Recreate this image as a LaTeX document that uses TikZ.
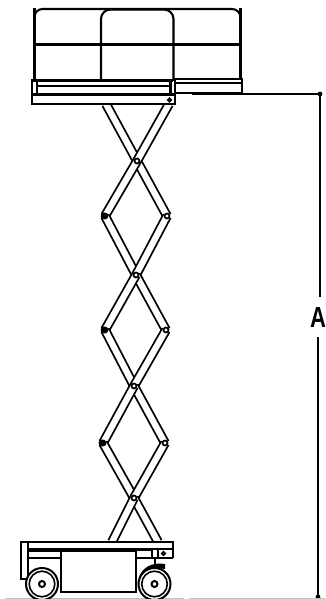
\documentclass[tikz,border=0pt]{standalone}
\usepackage{fontspec}
\setmainfont{Liberation Sans}
\begin{document}
\begin{tikzpicture}[x=1pt,y=-1pt,
  frame/.style={draw=black,line width=2pt,fill=white},
  ln/.style={draw=black,line width=2.1pt},
  thin line/.style={draw=black,line width=1.1pt},
  beam/.style={draw=black,line width=1.8pt,double=white,double distance=6.2pt},
  pin/.style={draw=black,line width=1.7pt,fill=white,circle,inner sep=0pt,minimum size=5pt},
]
\useasboundingbox (0,0) rectangle (325,599);
\fill[white] (0,0) rectangle (325,599);
% scissor points
\coordinate (t1) at (106,104); \coordinate (t2) at (169,104);
\coordinate (c1) at (137,161); \coordinate (l1) at (105,216); \coordinate (r1) at (167,216);
\coordinate (c2) at (136,275); \coordinate (l2) at (105,330); \coordinate (r2) at (166,330);
\coordinate (c3) at (134,386); \coordinate (l3) at (103,443); \coordinate (r3) at (165,443);
\coordinate (c4) at (134,498); \coordinate (b1) at (112,542); \coordinate (b2) at (158,542);
% beams
\draw[beam] (t1) -- (c1) -- (r1);
\draw[beam] (t2) -- (c1);
\draw[beam] (c1) -- (l1);
\draw[beam] (l1) -- (c2);
\draw[beam] (r1) -- (c2);
\draw[beam] (c2) -- (r2);
\draw[beam] (c2) -- (l2);
\draw[beam] (l2) -- (c3);
\draw[beam] (r2) -- (c3);
\draw[beam] (c3) -- (r3);
\draw[beam] (c3) -- (l3);
\draw[beam] (l3) -- (c4);
\draw[beam] (r3) -- (c4);
\draw[beam] (c4) -- (b2);
\draw[beam] (c4) -- (b1);
\foreach \p in {c1,c2,c3,c4,l1,r1,l2,r2,l3,r3} \node[pin] at (\p) {};
\foreach \p in {l1,l2,l3} \fill ([xshift=-1pt]\p) circle (3.4pt);
\foreach \p in {r1,r2,r3} \fill[white] (\p) circle (0.9pt);
% guard rails
\draw[ln] (34.5,80) -- (34.5,8);
\draw[ln] (240.5,80) -- (240.5,8);
\draw[ln] (34.5,17) arc[start angle=180,end angle=270,radius=8] -- (232,9) arc[start angle=270,end angle=360,radius=8.5];
\draw[ln] (34.5,44.5) -- (240,44.5);
\draw[ln] (101,80) -- (101,19) arc[start angle=180,end angle=270,radius=9.5] -- (164,9.5) arc[start angle=270,end angle=360,radius=9.5] -- (173.5,80);
% platform
\draw[frame] (175,79) rectangle (242,93);
\draw[ln,line width=1.5pt] (175,83) -- (242,83);
\draw[frame] (32,80.5) rectangle (175,104);
\draw[ln,line width=1.8pt] (32,81.5) -- (173,81.5);
\draw[ln,line width=2.8pt] (100,80) -- (172,80);
\draw[ln] (37,86) -- (171,86);
\draw[ln] (32,94.5) -- (175,94.5);
\draw[ln] (37,81) -- (37,94.5);
\draw[ln,line width=2.6pt] (170.5,81) -- (170.5,94.5);
\node[pin,minimum size=3.5pt] at (169.5,100) {};
% dimension
\draw[thin line] (192,94) -- (320,94);
\draw[ln] (192,94) -- (241,94);
\fill (320,94) circle (2.4pt);
\draw[thin line,line width=1.3pt] (320,94) -- (320,297);
\draw[thin line,line width=1.3pt] (318,337) -- (318,597);
\fill (318,597) circle (2.4pt);
\node[font=\bfseries\fontsize{29}{29}\selectfont,inner sep=0pt,xscale=.76] (dimA) at (318,317.5) {A};
% base
\draw[black!25,line width=0.8pt] (6,598.2) -- (184,598.2) (190,598.2) -- (325,598.2);
\draw[frame] (21,542) rectangle (28,579);
\draw[frame] (28,542) rectangle (173,549);
\draw[ln,line width=2.6pt] (28,550.5) -- (135,550.5);
\draw[ln] (28,558) -- (60.5,558);
\draw[frame] (61,551) rectangle (135.5,592);
\draw[ln] (135.5,550) -- (152,550);
\draw[ln] (135.5,558) -- (173,558);
\draw[ln] (173,549) -- (173,558);
\draw[ln] (152,550) -- (152,558);
\draw[ln] (158,550) -- (158,558);
\node[pin,minimum size=3.5pt] at (163.5,553.5) {};
\draw[ln,line width=2.8pt] (155,558) -- (155,566);
\fill (139,577) .. controls (143,567) and (152,562) .. (165,564) -- (165,569) .. controls (152,567) and (146,571) .. (142,580) -- cycle;
% wheels
\foreach \c in {(42,584),(154.5,584)} {
  \draw[draw=black,line width=2pt,fill=white] \c circle (16);
  \draw[black,line width=1.6pt] \c circle (12.8);
  \draw[black,line width=2pt,fill=white] \c circle (3);
}
\end{tikzpicture}
\end{document}
